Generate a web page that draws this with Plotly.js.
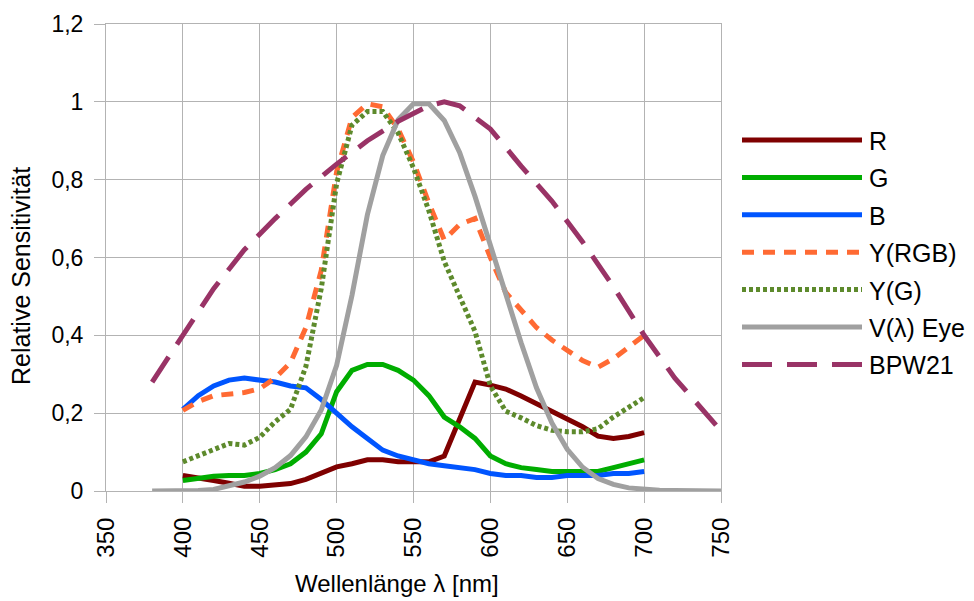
<!DOCTYPE html>
<html>
<head>
<meta charset="utf-8">
<script src="https://cdn.plot.ly/plotly-3.0.1.min.js"></script>
<style>
  html, body { margin: 0; padding: 0; background: #ffffff; }
  #chart { width: 974px; height: 601px; }
</style>
</head>
<body>
<div id="chart"></div>
<script>
// Wavelength grid (nm) of the RGB sensor channels
const wavelength = [400, 410, 420, 430, 440, 450, 460, 470, 480, 490, 500, 510, 520, 530, 540, 550,
                    560, 570, 580, 590, 600, 610, 620, 630, 640, 650, 660, 670, 680, 690, 700];

// Relative sensitivity of the sensor channels
const sensR = [0.04, 0.035, 0.027, 0.02, 0.012, 0.012, 0.014, 0.019, 0.03, 0.045, 0.062, 0.07, 0.08, 0.08, 0.075, 0.075,
               0.075, 0.09, 0.185, 0.28, 0.272, 0.262, 0.244, 0.224, 0.205, 0.185, 0.165, 0.141, 0.135, 0.14, 0.15];
const sensG = [0.027, 0.033, 0.038, 0.04, 0.04, 0.045, 0.055, 0.07, 0.1, 0.147, 0.255, 0.31, 0.325, 0.325, 0.31, 0.285,
               0.245, 0.19, 0.165, 0.135, 0.09, 0.07, 0.06, 0.055, 0.05, 0.05, 0.05, 0.05, 0.06, 0.07, 0.08];
const sensB = [0.21, 0.245, 0.27, 0.285, 0.29, 0.285, 0.28, 0.27, 0.265, 0.235, 0.2, 0.165, 0.135, 0.105, 0.09, 0.08,
               0.07, 0.065, 0.06, 0.055, 0.045, 0.04, 0.04, 0.035, 0.035, 0.04, 0.04, 0.04, 0.045, 0.045, 0.05];
const sensYRGB = [0.207, 0.23, 0.245, 0.25, 0.253, 0.263, 0.29, 0.33, 0.42, 0.567, 0.82, 0.96, 0.995, 0.987, 0.93, 0.845,
                  0.74, 0.645, 0.685, 0.7, 0.6, 0.51, 0.464, 0.42, 0.388, 0.36, 0.335, 0.318, 0.34, 0.37, 0.4];
const sensYG = [0.075, 0.09, 0.105, 0.122, 0.118, 0.138, 0.178, 0.21, 0.32, 0.52, 0.79, 0.94, 0.975, 0.975, 0.92, 0.83,
                0.72, 0.59, 0.5, 0.41, 0.27, 0.205, 0.188, 0.168, 0.156, 0.152, 0.152, 0.16, 0.19, 0.215, 0.24];

// Photopic eye response V(λ)
const eyeWavelength = [380, 390, 400, 410, 420, 430, 440, 450, 460, 470, 480, 490, 500, 510, 520, 530, 540, 550, 560,
                       570, 580, 590, 600, 610, 620, 630, 640, 650, 660, 670, 680, 690, 700, 710, 720, 730, 740, 750];
const eyeV = [0, 0, 0.001, 0.001, 0.004, 0.012, 0.023, 0.038, 0.06, 0.091, 0.139, 0.208, 0.323, 0.503, 0.71, 0.862, 0.954,
              0.995, 0.995, 0.952, 0.87, 0.757, 0.631, 0.503, 0.381, 0.265, 0.175, 0.107, 0.061, 0.032, 0.017, 0.008,
              0.004, 0.002, 0.001, 0.001, 0, 0];

// BPW21 photodiode response
const bpwWavelength = [380, 400, 420, 440, 460, 480, 500, 520, 540, 560, 570, 580, 600, 620, 640, 660, 680, 700, 720, 750];
const bpwSens = [0.28, 0.4, 0.52, 0.62, 0.7, 0.775, 0.84, 0.9, 0.95, 0.99, 1.0, 0.99, 0.93, 0.835, 0.745, 0.64, 0.525,
                 0.4, 0.29, 0.155];

// Axis tick values
const xTicks = [350, 400, 450, 500, 550, 600, 650, 700, 750];
const yTicks = [0, 0.2, 0.4, 0.6, 0.8, 1, 1.2];

const series = [
  { name: 'R',          x: wavelength,    y: sensR },
  { name: 'G',          x: wavelength,    y: sensG },
  { name: 'B',          x: wavelength,    y: sensB },
  { name: 'Y(RGB)',     x: wavelength,    y: sensYRGB },
  { name: 'Y(G)',       x: wavelength,    y: sensYG },
  { name: 'V(λ) Eye',   x: eyeWavelength, y: eyeV },
  { name: 'BPW21',      x: bpwWavelength, y: bpwSens }
];

const styles = {
  'R':        { color: '#7f0000', dash: 'solid' },
  'G':        { color: '#00ad00', dash: 'solid' },
  'B':        { color: '#0055ff', dash: 'solid' },
  'Y(RGB)':   { color: '#ff6a33', dash: '12px,9px' },
  'Y(G)':     { color: '#5d8a2c', dash: '4px,3px' },
  'V(λ) Eye': { color: '#a0a0a0', dash: 'solid' },
  'BPW21':    { color: '#993366', dash: '30px,15px' }
};
const LINE_W = 5;

// Plot frame in pixels
const W = 974, H = 601;
const M = { l: 106, r: 253, t: 24, b: 110 };
const plotW = W - M.l - M.r, plotH = H - M.t - M.b;
const px2x = px => (px - M.l) / plotW;
const px2y = py => (H - M.b - py) / plotH;

const traces = series.map(s => ({
  type: 'scatter',
  mode: 'lines',
  name: s.name,
  x: s.x,
  y: s.y,
  line: { color: styles[s.name].color, width: LINE_W, dash: styles[s.name].dash },
  hoverinfo: 'x+y+name'
}));

// Hand-drawn legend with long sample lines
const shapes = [];
const annotations = [];
const legendTop = 140, legendStep = 37.4;
series.forEach((s, i) => {
  const py = legendTop + i * legendStep;
  shapes.push({
    type: 'line', xref: 'paper', yref: 'paper',
    x0: px2x(742), x1: px2x(862), y0: px2y(py), y1: px2y(py),
    line: { color: styles[s.name].color, width: LINE_W, dash: styles[s.name].dash }
  });
  annotations.push({
    xref: 'paper', yref: 'paper', x: px2x(867), y: px2y(py + 1),
    xanchor: 'left', yanchor: 'middle', showarrow: false,
    text: s.name, font: { size: 25, color: '#000000' }
  });
});

// Axis titles
annotations.push({
  xref: 'paper', yref: 'paper', x: px2x(397), y: px2y(583),
  xanchor: 'center', yanchor: 'middle', showarrow: false,
  text: 'Wellenlänge λ [nm]', font: { size: 24, color: '#000000' }
});
annotations.push({
  xref: 'paper', yref: 'paper', x: px2x(21), y: px2y(276),
  xanchor: 'center', yanchor: 'middle', showarrow: false, textangle: -90,
  text: 'Relative Sensitivität', font: { size: 25, color: '#000000' }
});

const gridCol = '#b3b3b3';
const layout = {
  width: W, height: H,
  margin: M,
  paper_bgcolor: '#ffffff',
  plot_bgcolor: '#ffffff',
  separators: ',.',
  showlegend: false,
  font: { family: '"Liberation Sans", Arial, sans-serif', color: '#000000' },
  xaxis: {
    range: [350, 750],
    tickmode: 'array', tickvals: xTicks, ticktext: xTicks.map(String),
    tickangle: -90,
    tickfont: { size: 24 },
    ticks: 'outside', ticklen: 11, tickcolor: gridCol, tickwidth: 1,
    ticklabelstandoff: 5,
    showgrid: true, gridcolor: gridCol, gridwidth: 1,
    showline: true, linecolor: gridCol, linewidth: 1, mirror: true,
    zeroline: false
  },
  yaxis: {
    range: [0, 1.2],
    tickmode: 'array', tickvals: yTicks,
    tickfont: { size: 23 },
    ticks: 'outside', ticklen: 11, tickcolor: gridCol, tickwidth: 1,
    ticklabelstandoff: 6,
    showgrid: true, gridcolor: gridCol, gridwidth: 1,
    showline: true, linecolor: gridCol, linewidth: 1, mirror: true,
    zeroline: false
  },
  shapes: shapes,
  annotations: annotations
};

Plotly.newPlot('chart', traces, layout, { staticPlot: true, displayModeBar: false });
</script>
</body>
</html>
